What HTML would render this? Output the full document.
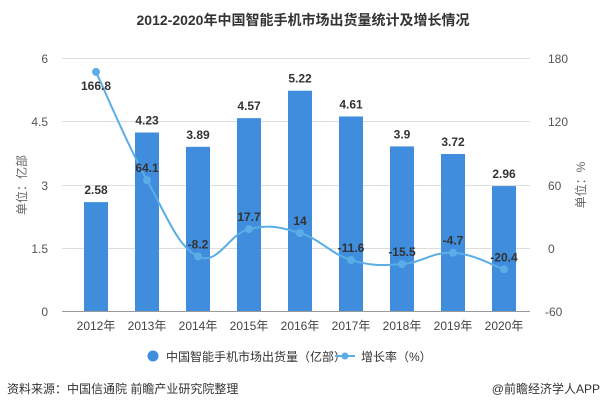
<!DOCTYPE html>
<html><head><meta charset="utf-8"><style>
body{margin:0;background:#fff;width:607px;height:412px;overflow:hidden;font-family:"Liberation Sans","Noto Sans CJK SC",sans-serif}
</style></head><body>
<svg id="s" width="607" height="412" xmlns="http://www.w3.org/2000/svg" font-family="Liberation Sans, Noto Sans CJK SC, sans-serif">
<text x="303" y="25" text-anchor="middle" font-size="14" font-weight="bold" fill="#333">2012-2020年中国智能手机市场出货量统计及增长情况</text>
<g stroke="#ddd" stroke-width="1">
<line x1="62" y1="58.5" x2="530" y2="58.5"/><line x1="62" y1="121.5" x2="530" y2="121.5"/>
<line x1="62" y1="185.5" x2="530" y2="185.5"/><line x1="62" y1="248.5" x2="530" y2="248.5"/>
</g>
<line x1="62" y1="311.5" x2="530" y2="311.5" stroke="#999"/>
<g font-size="12" fill="#555" text-anchor="end">
<text x="48" y="63">6</text><text x="48" y="126">4.5</text><text x="48" y="190">3</text><text x="48" y="253">1.5</text><text x="48" y="316">0</text>
</g>
<g font-size="12" fill="#555" text-anchor="start">
<text x="548" y="63">180</text><text x="548" y="126">120</text><text x="548" y="190">60</text><text x="548" y="253">0</text><text x="545" y="316">-60</text>
</g>
<text transform="translate(26,185) rotate(-90)" text-anchor="middle" font-size="12" fill="#666">单位：亿部</text>
<text transform="translate(585,185) rotate(-90)" text-anchor="middle" font-size="12" fill="#666">单位：%</text>
<g id="bars" fill="#3f8ddc"></g>
<g id="xl" font-size="12" fill="#444" text-anchor="middle"></g>
<g id="bl" font-size="12" font-weight="bold" fill="#333" text-anchor="middle"></g>
<path id="ln" fill="none" stroke="#5aade6" stroke-width="2"/>
<g id="dots" fill="#5aade6"></g>
<g id="ll" font-size="12" font-weight="bold" fill="#333" text-anchor="middle"></g>
<circle cx="153" cy="356" r="5.5" fill="#3f8ddc"/>
<text x="166" y="361" font-size="12" fill="#333">中国智能手机市场出货量（亿部）</text>
<line x1="335" y1="356" x2="355" y2="356" stroke="#5aade6" stroke-width="2"/>
<circle cx="345" cy="356" r="3.5" fill="#5aade6"/>
<text x="361" y="361" font-size="12" fill="#333">增长率（%）</text>
<text x="7" y="393" font-size="12" fill="#333">资料来源：中国信通院 前瞻产业研究院整理</text>
<text x="600" y="393" font-size="12" fill="#333" text-anchor="end">@前瞻经济学人APP</text>
</svg>
<script>
(function(){
var ns="http://www.w3.org/2000/svg";
function el(p,t,a,txt){var e=document.createElementNS(ns,t);for(var k in a)e.setAttribute(k,a[k]);if(txt!=null)e.textContent=txt;document.getElementById(p).appendChild(e);}
var b=[2.58,4.23,3.89,4.57,5.22,4.61,3.9,3.72,2.96];
var g=[166.8,64.1,-8.2,17.7,14,-11.6,-15.5,-4.7,-20.4];
var pts=[];
for(var i=0;i<9;i++){var x=96+51*i;var bt=311-b[i]*42.2;
el("bars","rect",{x:x-12,y:bt,width:24,height:311-bt});
el("xl","text",{x:x,y:330},(2012+i)+"年");
el("bl","text",{x:x,y:bt-8},String(b[i]));
var y=311-(g[i]+60)*1.0542;pts.push([x,y]);
el("dots","circle",{cx:x,cy:y,r:4});
var ly=i==0?y+18:y-8;
el("ll","text",{x:x,y:ly},String(g[i]));}
var d="M"+pts[0][0]+","+pts[0][1];
for(var i=0;i<8;i++){var p0=pts[Math.max(0,i-1)],p1=pts[i],p2=pts[i+1],p3=pts[Math.min(8,i+2)];
var t=0.2;var c1=[p1[0]+(p2[0]-p0[0])*t,p1[1]+(p2[1]-p0[1])*t];var c2=[p2[0]-(p3[0]-p1[0])*t,p2[1]-(p3[1]-p1[1])*t];
d+=" C"+c1+" "+c2+" "+p2;}
document.getElementById("ln").setAttribute("d",d);
})();
</script>
</body></html>
